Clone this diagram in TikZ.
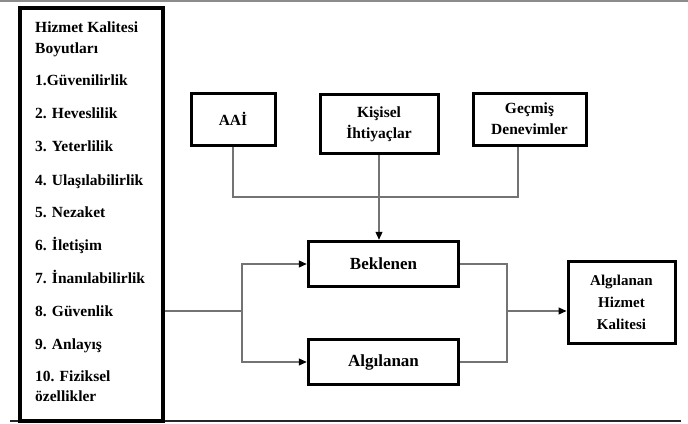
\documentclass[tikz,border=0pt]{standalone}
\usepackage{fontspec}
\setmainfont{Liberation Serif}
\usetikzlibrary{arrows.meta}

\begin{document}
\begin{tikzpicture}[x=1pt, y=-1pt,
    every node/.style={font=\bfseries\fontsize{15.5}{21}\selectfont},
    box/.style={draw, line width=3pt, align=center, inner sep=0pt},
    item/.style={anchor=base west, inner sep=0pt},
    link/.style={draw=black!55, line width=1.1pt},
    arrow/.style={link, -{Triangle[length=8pt, width=7pt, fill=black, color=black]}}]
    \useasboundingbox (0,0) rectangle (688,423);

    % page rules
    \draw[black!45, line width=1.5pt] (0,1) -- (688,1);
    \draw[black!85, line width=2pt] (10,420.5) -- (681,420.5);

    % dimensions list
    \node[draw, line width=4pt, minimum width=143pt, minimum height=413pt, inner sep=0pt] (dims) at (91.5,214.5) {};
    \foreach \y/\t [count=\i] in {32/Hizmet Kalitesi, 53/Boyutları, 85/1.Güvenilirlik,
        118/2. Heveslilik, 151/3. Yeterlilik, 185/4. Ulaşılabilirlik, 217/5. Nezaket,
        250/6. İletişim, 283/7. İnanılabilirlik, 316/8. Güvenlik, 349/9. Anlayış,
        381/10. Fiziksel, 401/özellikler}
        \node[item] (d\i) at (35,\y) {\t};

    \node[box, minimum width=84pt, minimum height=52pt] (aai) at (233,119) {AAİ};
    \node[box, minimum width=118pt, minimum height=59pt] (kis) at (379,124) {Kişisel\\İhtiyaçlar};
    \node[box, minimum width=113pt, minimum height=52pt] (gec) at (529.5,119) {Geçmiş\\Denevimler};

    \node[box, line width=3.5pt, minimum width=150pt, minimum height=45pt,
        font=\bfseries\fontsize{17}{20}\selectfont] (bek) at (383.5,264) {Beklenen};
    \node[box, line width=3.5pt, minimum width=150pt, minimum height=45pt,
        font=\bfseries\fontsize{17}{20}\selectfont] (alg) at (383.5,362) {Algılanan};
    \node[box, minimum width=107pt, minimum height=82pt,
        font=\bfseries\fontsize{15}{22}\selectfont] (res) at (621.5,302) {Algılanan\\Hizmet\\Kalitesi};

    \coordinate (merge) at (379,197);
    \coordinate (gecdrop) at ([xshift=-11.5pt]gec.south);
    \coordinate (split) at (242,311);
    \coordinate (join) at (507,311);

    \draw[link] (aai.south) |- (merge) -| (gecdrop);
    \draw[arrow] (kis.south) -- (kis.south |- bek.north);

    \draw[link] (split -| dims.east) -- (split);
    \draw[arrow] (split) |- (bek.west);
    \draw[arrow] (split) |- (alg.west);

    \draw[link] (bek.east) -| (join);
    \draw[link] (alg.east) -| (join);
    \draw[arrow] (join) -- (join -| res.west);
\end{tikzpicture}
\end{document}
